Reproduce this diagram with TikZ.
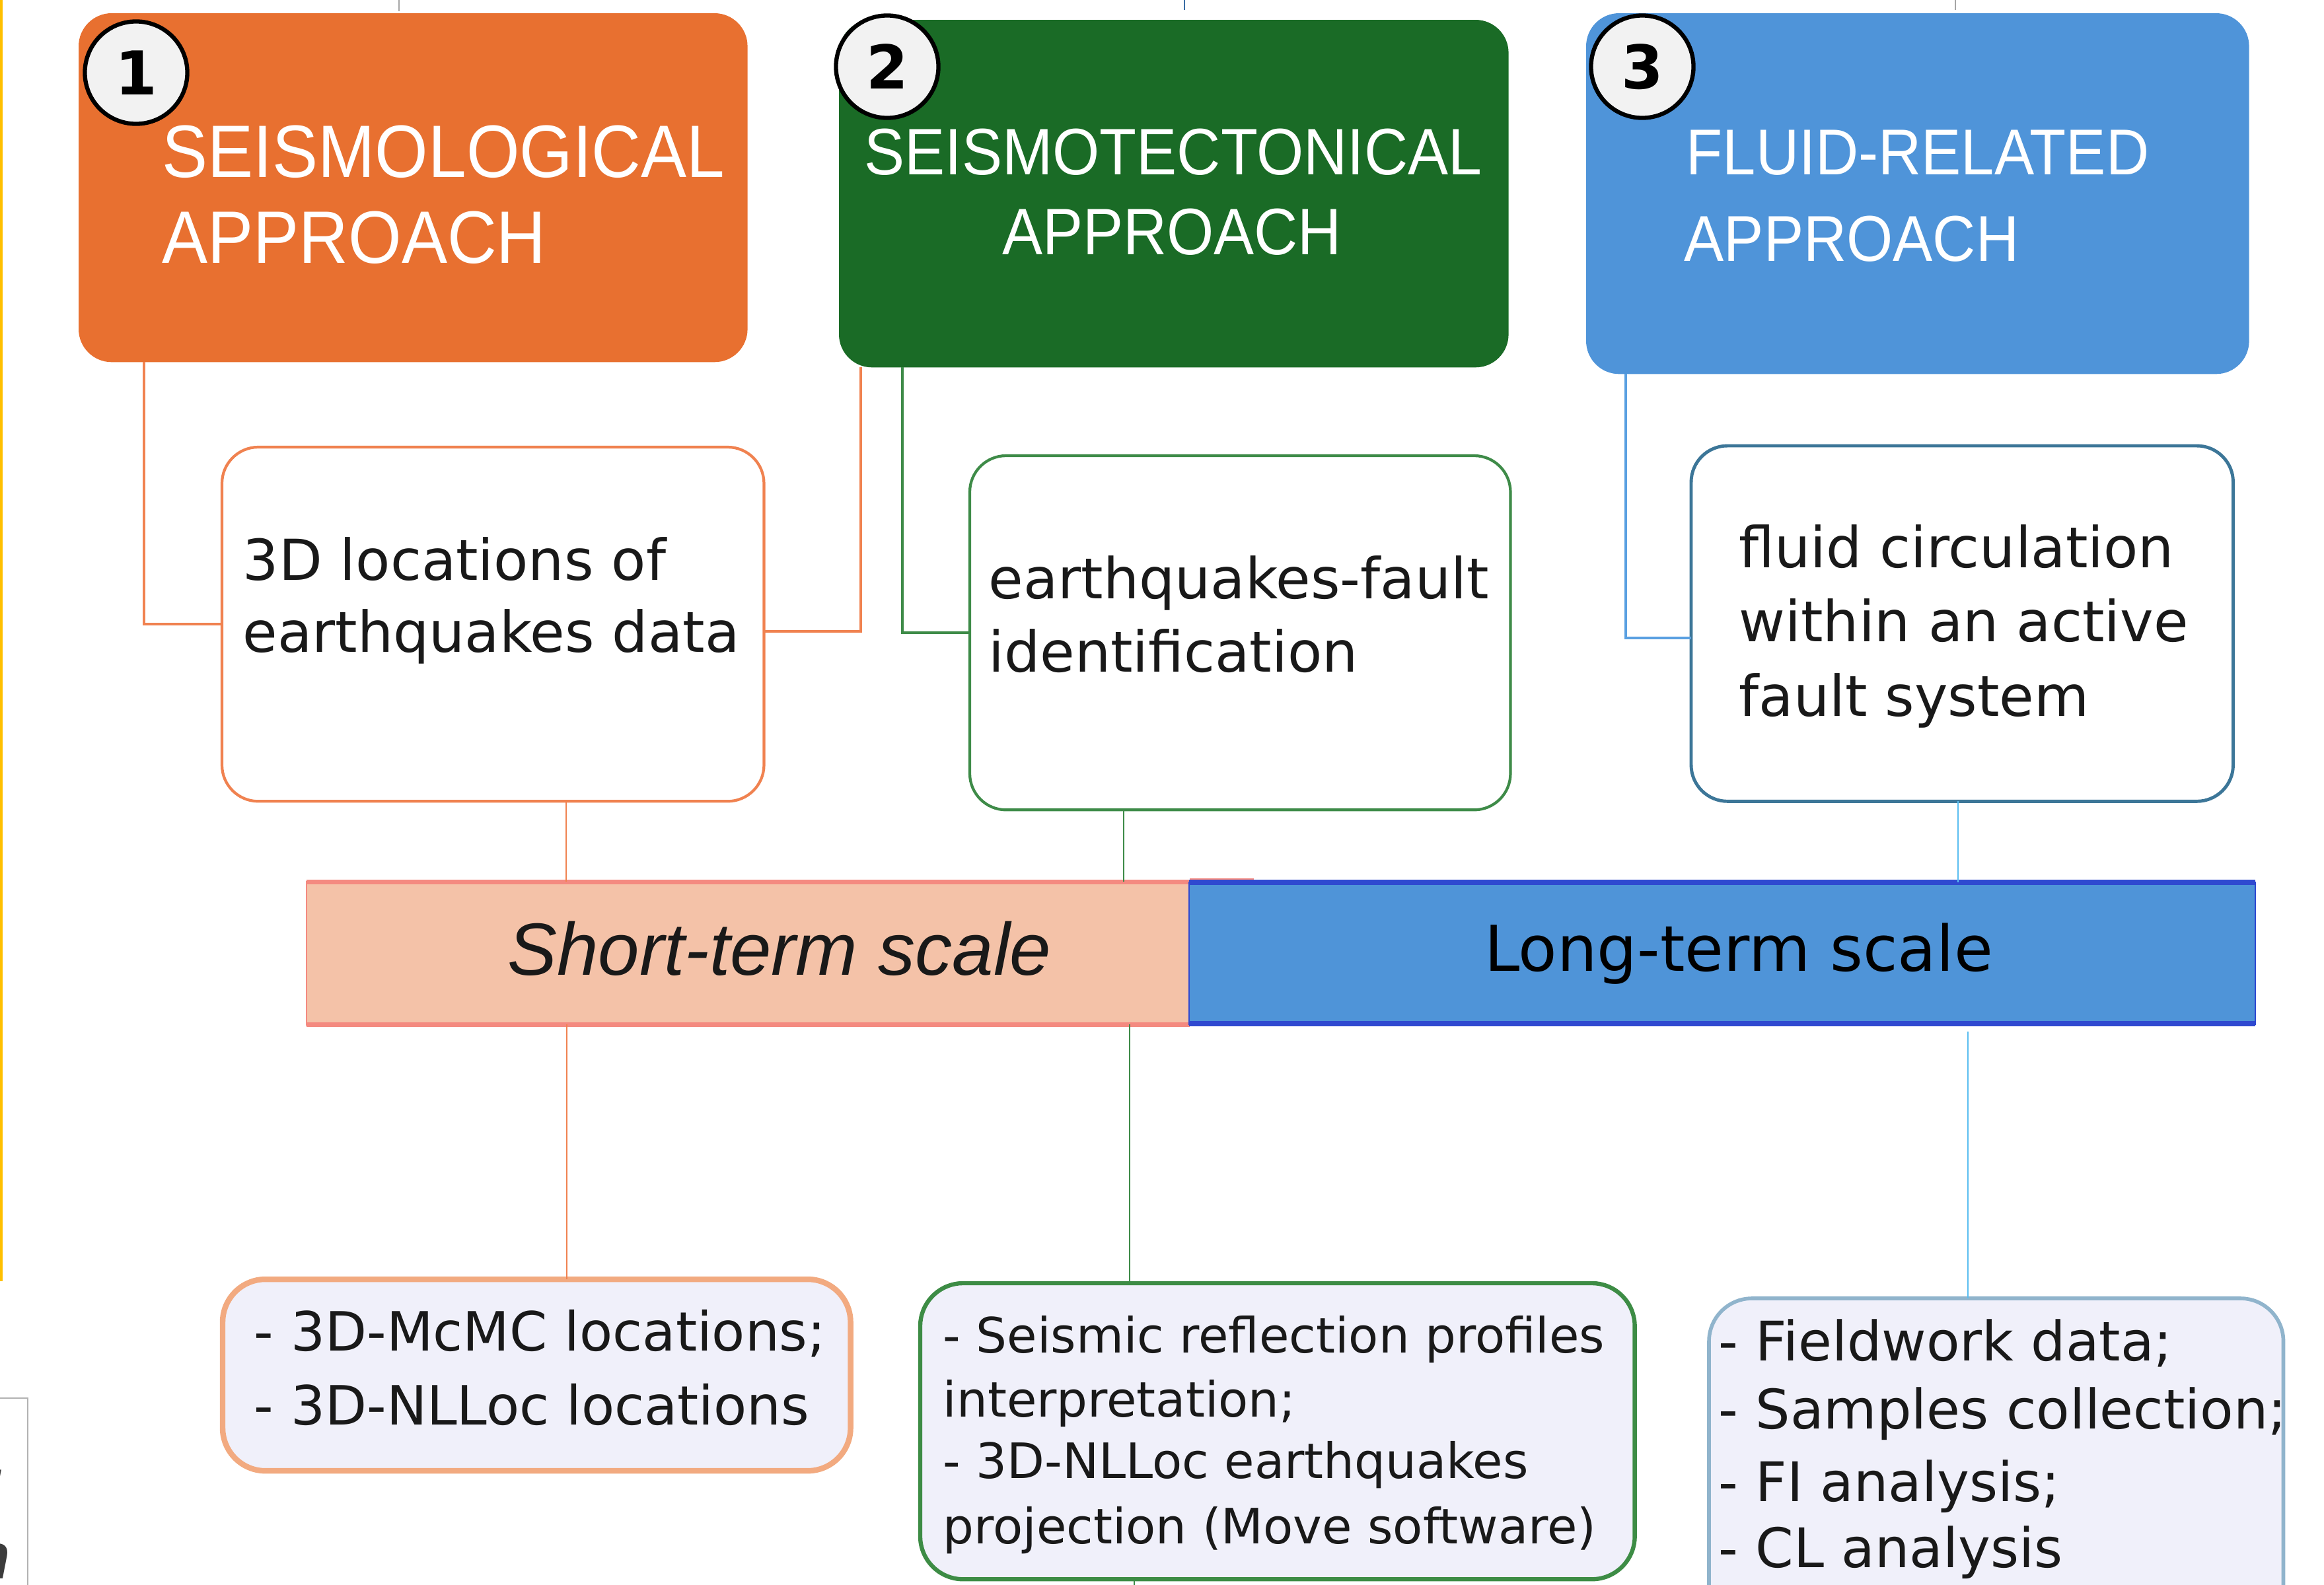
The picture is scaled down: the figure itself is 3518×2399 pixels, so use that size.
\documentclass[tikz,border=0pt]{standalone}
\usepackage{fontspec}
\setmainfont{DejaVu Sans}
\newfontfamily\hdfont[FakeStretch=0.92]{Liberation Sans}
\newfontfamily\lsfont{Liberation Sans}
\usetikzlibrary{calc}
\definecolor{orA}{RGB}{232,112,48}
\definecolor{grA}{RGB}{26,107,38}
\definecolor{blA}{RGB}{79,148,217}
\definecolor{orL}{RGB}{240,130,80}
\definecolor{grL}{RGB}{62,139,72}
\definecolor{blL}{RGB}{90,160,225}
\definecolor{cyL}{RGB}{90,190,240}
\definecolor{stB}{RGB}{60,118,152}
\definecolor{stF}{RGB}{244,194,168}
\definecolor{stE}{RGB}{244,138,128}
\definecolor{ltF}{RGB}{79,148,216}
\definecolor{ltE}{RGB}{47,73,208}
\definecolor{lav}{RGB}{240,240,250}
\definecolor{orD}{RGB}{242,170,128}
\definecolor{grE}{RGB}{61,140,69}
\definecolor{blF}{RGB}{144,180,204}
\definecolor{txt}{RGB}{25,25,25}
\definecolor{yel}{RGB}{255,192,0}
\definecolor{numfill}{RGB}{242,242,242}
\definecolor{frag}{RGB}{60,60,60}
\definecolor{tickB}{RGB}{58,110,165}
\begin{document}
\begin{tikzpicture}[x=0.01cm,y=-0.01cm,
  hd/.style={text=white, inner sep=0pt, font=\hdfont\fontsize{#1}{#1}\selectfont},
  tx/.style={text=txt, inner sep=0pt, anchor=base west, font=\fontsize{#1}{#1}\selectfont},
  headbox/.style={inner sep=0pt, outer sep=0pt, anchor=north west, rounded corners=0.5cm},
  midbox/.style={draw, fill=white, inner sep=0pt, outer sep=0pt, anchor=north west, rounded corners=0.55cm, line width=1.2pt},
  lowbox/.style={draw, fill=lav, inner sep=0pt, outer sep=0pt, anchor=north west, rounded corners=0.65cm},
  barbox/.style={inner sep=0pt, outer sep=0pt, anchor=north west, line width=0.8pt},
  numc/.style={circle, draw=black, line width=1.8pt, fill=numfill, minimum size=1.55cm, inner sep=0pt, font=\bfseries\fontsize{26pt}{26pt}\selectfont},
  link/.style={line width=1pt},
  thin link/.style={line width=0.8pt},
]
\path[use as bounding box, fill=white] (0,0) rectangle (3518,2399);
\clip (0,0) rectangle (3518,2399);

% left yellow rule
\fill[yel] (0,0) rectangle (4,1940);

% top ticks
\draw[gray!70, line width=0.6pt] (604,0) -- (604,17);
\draw[tickB, line width=0.8pt] (1793,0) -- (1793,15);
\draw[gray!70, line width=0.6pt] (2960,0) -- (2960,15);

% header boxes
\node[headbox, fill=orA, minimum width=10.12cm, minimum height=5.28cm] (b1) at (119,20) {};
\node[headbox, fill=grA, minimum width=10.13cm, minimum height=5.26cm] (b2) at (1270,30) {};
\node[headbox, fill=blA, minimum width=10.03cm, minimum height=5.46cm] (b3) at (2401,20) {};

\node[hd=32pt, anchor=base west] (h1a) at (245,268) {SEISMOLOGICAL};
\node[hd=32pt, anchor=base west] (h1b) at (245,398) {APPROACH};
\node[hd=28.3pt, anchor=base] (h2a) at (1776,264) {SEISMOTECTONICAL};
\node[hd=28.3pt, anchor=base] (h2b) at (1774,385) {APPROACH};
\node[hd=27.9pt, anchor=base west] (h3a) at (2552,264) {FLUID-RELATED};
\node[hd=27.9pt, anchor=base west] (h3b) at (2549,395) {APPROACH};

\node[numc] (c1) at (206,110) {1};
\node[numc] (c2) at (1343,101) {2};
\node[numc] (c3) at (2486,101) {3};

% middle boxes
\node[midbox, draw=orL, minimum width=8.2cm, minimum height=5.36cm] (bA) at (336,677) {};
\node[midbox, draw=grL, minimum width=8.18cm, minimum height=5.36cm] (bB) at (1468,690) {};
\node[midbox, draw=stB, line width=1.4pt, minimum width=8.2cm, minimum height=5.38cm] (bC) at (2560,675) {};

\node[tx=24.3pt] (tA1) at (367,878) {3D locations of};
\node[tx=24.3pt] (tA2) at (367,987) {earthquakes data};
\node[tx=24.3pt] (tB1) at (1496,906) {earthquakes-fault};
\node[tx=24.3pt] (tB2) at (1496,1017) {identification};
\node[tx=24.3pt] (tC1) at (2632,859) {fluid circulation};
\node[tx=24.3pt] (tC2) at (2632,971) {within an active};
\node[tx=24.3pt] (tC3) at (2632,1084) {fault system};

% scale bars
\node[barbox, draw=stE, fill=stF, minimum width=13.36cm, minimum height=2.16cm] (bar1) at (464,1335) {};
\draw[stE, line width=2pt] (bar1.north west) -- (bar1.north east);
\draw[stE, line width=2pt] (bar1.south west) -- (bar1.south east);
\draw[stE, line width=1.6pt] ($(bar1.north east)+(0,-2)$) -- ++(97,0);
\node[barbox, draw=ltE, fill=ltF, minimum width=16.13cm, minimum height=2.14cm] (bar2) at (1800,1336) {};
\draw[ltE, line width=2.4pt] (bar2.north west) -- (bar2.north east);
\draw[ltE, line width=2.4pt] (bar2.south west) -- (bar2.south east);

\node[inner sep=0pt, anchor=base, text=txt, font=\lsfont\itshape\fontsize{31.9pt}{31.9pt}\selectfont] (ts) at (1180,1476) {Short-term scale};
\node[inner sep=0pt, anchor=base, text=black, font=\fontsize{27.2pt}{27.2pt}\selectfont] (tl) at (2632,1470) {Long-term scale};

% bottom boxes
\node[lowbox, draw=orD, line width=2.4pt, minimum width=9.5cm, minimum height=2.9cm] (bD) at (337,1937) {};
\node[lowbox, draw=grE, line width=1.8pt, minimum width=10.81cm, minimum height=4.48cm] (bE) at (1393,1943) {};
\node[lowbox, draw=blF, line width=1.6pt, minimum width=8.69cm, minimum height=5.2cm] (bF) at (2587,1966) {};

\node[tx=23.3pt] (tD1) at (384,2045) {- 3D-McMC locations;};
\node[tx=23.3pt] (tD2) at (384,2157) {- 3D-NLLoc locations};
\node[tx=21pt] (tE1) at (1427,2048) {- Seismic reflection profiles};
\node[tx=21pt] (tE2) at (1427,2145) {interpretation;};
\node[tx=21pt] (tE3) at (1427,2238) {- 3D-NLLoc earthquakes};
\node[tx=21pt] (tE4) at (1427,2337) {projection (Move software)};
\node[tx=23.5pt] (tF1) at (2601,2060) {- Fieldwork data;};
\node[tx=23.5pt] (tF2) at (2601,2163) {- Samples collection;};
\node[tx=23.5pt] (tF3) at (2601,2273) {- FI analysis;};
\node[tx=23.5pt] (tF4) at (2601,2373) {- CL analysis};

% connectors: header to middle
\draw[link, orL] ($(b1.south west)+(99,0)$) |- (bA.west);
\draw[link, orL] ($(bA.east)+(0,11)$) -| ($(b2.south west)+(33,0)$);
\draw[link, grL] ($(b2.south west)+(96,0)$) |- (bB.west);
\draw[link, blL] ($(b3.south west)+(60,0)$) |- ($(bC.west)+(0,22)$);

% connectors: middle to bars
\coordinate (oA) at ($(bA.south west)+(521,0)$);
\coordinate (gB) at ($(bB.south west)+(233,0)$);
\coordinate (cC) at ($(bC.south west)+(404,0)$);
\draw[thin link, orL] (oA) -- (oA |- bar1.north);
\draw[thin link, grL] (gB) -- (gB |- bar1.north);
\draw[thin link, cyL] (cC) -- (cC |- bar2.north);

% connectors: bars to bottom boxes
\coordinate (oD) at ($(bD.north west)+(521,0)$);
\coordinate (gE) at ($(bE.north west)+(317,0)$);
\coordinate (cF) at ($(bF.north west)+(392,0)$);
\draw[thin link, orL] (oD |- bar1.south) -- (oD);
\draw[thin link, grL] (gE |- bar1.south) -- (gE);
\draw[thin link, cyL] ($(cF |- bar2.south)+(0,12)$) -- (cF);
\coordinate (gEend) at ($(bE.south west)+(324,20)$);
\draw[thin link, grL] ($(bE.south west)+(324,0)$) -- (gEend);

% clipped fragment at bottom-left
\draw[gray!60, line width=0.6pt] (-5,2117) -- (42,2117) -- (42,2410);
\begin{scope}
\clip (0,2117) rectangle (41,2399);
\node[anchor=base east, inner sep=0pt, text=frag, font=\lsfont\bfseries\itshape\fontsize{28pt}{28pt}\selectfont] (fr1) at (12,2240) {,};
\node[anchor=base east, inner sep=0pt, text=frag, font=\lsfont\bfseries\itshape\fontsize{28pt}{28pt}\selectfont] (fr2) at (16,2390) {n};
\end{scope}
\end{tikzpicture}
\end{document}
